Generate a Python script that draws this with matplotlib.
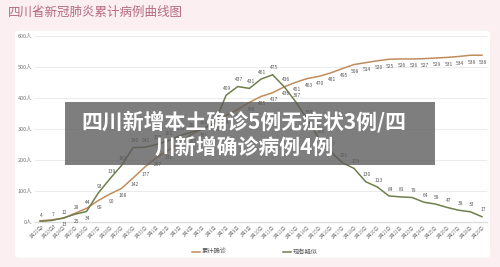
import matplotlib.pyplot as plt
from matplotlib.patches import FancyBboxPatch, Rectangle

plt.rcParams['font.family'] = ['Noto Sans CJK SC', 'DejaVu Sans']

# dates 1/22 .. 2/29
dates = [f"1月{d}日" for d in range(22, 32)] + [f"2月{d}日" for d in range(1, 30)]

# cumulative confirmed
total = [4, 7, 12, 28, 44, 69, 90, 108, 142, 177,
         207, 231, 254, 282, 301, 321, 344, 363, 386, 405,
         417, 436, 451, 463, 470, 481, 495, 508, 514, 520,
         525, 526, 526, 527, 529, 531, 534, 538, 538]

# current suspected
suspect = [2, 5, 13, 25, 34, 93, 139, 182, 240, 241,
           250, 262, 278, 290, 300, 318, 409, 437, 431, 461,
           475, 436, 387, 330, 268, 227, 191, 173, 130, 113,
           84, 81, 79, 64, 58, 47, 38, 33, 17]

brown = '#c08c5c'
green = '#6e7f4c'

fig = plt.figure(figsize=(5, 2.67), dpi=100, facecolor='#fbeff1')

panel = FancyBboxPatch((0.03, 0.035), 0.95, 0.85, boxstyle='round,pad=0,rounding_size=0.01',
                       transform=fig.transFigure, facecolor='white', edgecolor='none', zorder=-5)
fig.patches.append(panel)

fig.text(0.016, 0.952, '四川省新冠肺炎累计病例曲线图', fontsize=9, color='#b56b80',
         va='center', ha='left', fontweight='medium')

ax = fig.add_axes([0.07, 0.1685, 0.904, 0.6966], zorder=1)
ax.set_facecolor('none')
x = list(range(len(dates)))
ax.plot(x, total, color=brown, lw=1.1, label='累计确诊', zorder=3)
ax.plot(x, suspect, color=green, lw=1.1, label='现有疑似', zorder=3)

for i, v in enumerate(total):
    dy = 4 if i < 5 else -5
    ax.annotate(str(v), (i, v), xytext=(1, dy), textcoords='offset points',
                fontsize=3.5, color='#555555', ha='center', va='center')
for i, v in enumerate(suspect):
    dy = -5 if i < 5 else 5
    ax.annotate(str(v), (i, v), xytext=(1, dy), textcoords='offset points',
                fontsize=3.5, color='#555555', ha='center', va='center')

ax.set_xlim(-0.43, len(dates) - 0.57)
ax.set_ylim(0, 600)
ax.set_yticks(range(0, 601, 100))
ax.set_yticklabels([f"{v}人" for v in range(0, 601, 100)], fontsize=4, color='#777777')
ax.set_xticks(x)
ax.set_xticklabels(dates, rotation=45, ha='right', rotation_mode='anchor', fontsize=3.2, color='#777777')
ax.tick_params(length=0, pad=2)
ax.grid(axis='y', color='#e8e8e8', lw=0.6)
for s in ['top', 'right', 'left']:
    ax.spines[s].set_visible(False)
ax.spines['bottom'].set_color('#dddddd')
ax.spines['bottom'].set_linewidth(1.0)

fig.legend(loc='center', bbox_to_anchor=(0.51, 0.056), ncol=2, frameon=False,
           fontsize=4.5, handlelength=1.3, columnspacing=9, handletextpad=0.3,
           labelcolor='#555555')

# overlay banner
banner = Rectangle((0.13, 0.382), 0.74, 0.236, transform=fig.transFigure,
                   facecolor='#5a5a5a', alpha=0.78, edgecolor='none', zorder=10)
fig.patches.append(banner)
fig.text(0.488, 0.545, '四川新增本土确诊5例无症状3例/四', fontsize=15, color='white',
         fontweight='heavy', ha='center', va='center', zorder=11)
fig.text(0.488, 0.45, '川新增确诊病例4例', fontsize=15, color='white',
         fontweight='heavy', ha='center', va='center', zorder=11)

fig.savefig('out.png', dpi=100, facecolor=fig.get_facecolor())
